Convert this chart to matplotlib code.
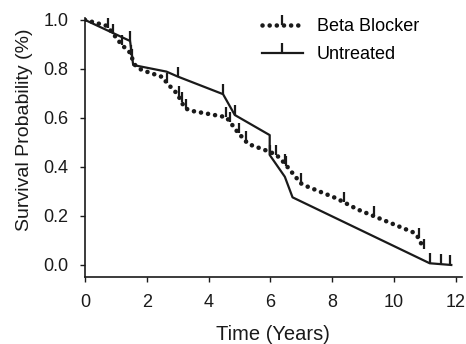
import numpy as np
import matplotlib
matplotlib.use("Agg")
import matplotlib.pyplot as plt
from matplotlib.path import Path
from matplotlib.lines import Line2D

plt.rcParams['font.family'] = ['Liberation Sans', 'DejaVu Sans']

# Beta Blocker curve (time in years, survival probability)
beta_t = [0, 0.70, 0.86, 1.19, 1.43, 1.62, 1.83, 2.53, 2.64, 2.99, 3.23, 3.45,
          4.58, 4.93, 5.28, 5.98, 6.20, 6.44, 6.99, 7.20, 8.14, 8.82, 10.65,
          10.81, 10.96]
beta_s = [1.0, 0.976, 0.952, 0.898, 0.871, 0.816, 0.796, 0.766, 0.744, 0.698,
          0.640, 0.629, 0.603, 0.544, 0.494, 0.462, 0.449, 0.418, 0.333, 0.320,
          0.272, 0.227, 0.132, 0.109, 0.065]
beta_cens = [0.75, 0.92, 1.21, 1.48, 1.53, 2.66, 3.03, 3.13, 3.27, 4.58, 4.69,
             4.98, 5.20, 6.20, 6.47, 6.52, 6.99, 8.39, 9.35, 10.80, 10.96]

# Untreated curve
untr_t = [0, 1.46, 1.56, 2.64, 3.00, 4.47, 4.85, 5.98, 5.98, 6.47, 6.72, 11.16, 11.86]
untr_s = [1.0, 0.914, 0.816, 0.789, 0.769, 0.697, 0.612, 0.530, 0.449, 0.360,
          0.276, 0.007, 0.0]
untr_cens = [0.0, 1.46, 3.02, 4.47, 4.85, 5.98, 11.18, 11.54, 11.83]

xticks = [0, 2, 4, 6, 8, 10, 12]
yticks = [0.0, 0.2, 0.4, 0.6, 0.8, 1.0]

fig = plt.figure(figsize=(4.66, 3.44), dpi=100)
ax = fig.add_axes([0.1824, 0.1948, 0.8086, 0.753])

col = '#1a1a1a'
tick_marker = Path([(0, 0), (0, 1)], [Path.MOVETO, Path.LINETO])
dot_style = dict(color=col, lw=3.3, linestyle=(0, (0.01, 1.55)), dash_capstyle='round')
cens_style = dict(ls='none', marker=tick_marker, ms=14, mew=1.6, color=col)

# Beta Blocker dotted
ax.plot(beta_t, beta_s, **dot_style)
bt = np.array(beta_cens)
ax.plot(bt, np.interp(bt, beta_t, beta_s), **cens_style)

# Untreated solid
ax.plot(untr_t, untr_s, color=col, lw=1.6)
ut = np.array(untr_cens)
ax.plot(ut, np.interp(ut, untr_t, untr_s), **cens_style)

ax.set_xlim(0, 12.2)
ax.set_ylim(-0.049, 1.008)
ax.set_xticks(xticks)
ax.set_xticklabels([str(x) for x in xticks])
ax.set_yticks(yticks)
ax.set_yticklabels([f'{y:.1f}' for y in yticks])
for s in ['top', 'right']:
    ax.spines[s].set_visible(False)
for s in ['left', 'bottom']:
    ax.spines[s].set_linewidth(1.2)
    ax.spines[s].set_color(col)
ax.tick_params(direction='out', length=3.5, width=1.0, colors=col,
               labelsize=13, labelcolor=col)
ax.tick_params(axis='x', pad=9)
ax.tick_params(axis='y', pad=8.5)
ax.set_xlabel('Time (Years)', fontsize=14.5, color=col, labelpad=9.5)
ax.set_ylabel('Survival Probability (%)', fontsize=14, color=col, labelpad=7)
ax.yaxis.label.set_y(0.568)

h1 = (Line2D([], [], **dot_style), Line2D([], [], **cens_style))
h2 = (Line2D([], [], color=col, lw=1.6), Line2D([], [], **cens_style))
ax.legend([h1, h2], ['Beta Blocker', 'Untreated'], loc='upper left',
          bbox_to_anchor=(0.451, 1.027), borderaxespad=0, frameon=False, fontsize=13,
          handlelength=2.25, handletextpad=0.78, labelspacing=0.62, numpoints=1)

fig.savefig('out.png', dpi=100)
